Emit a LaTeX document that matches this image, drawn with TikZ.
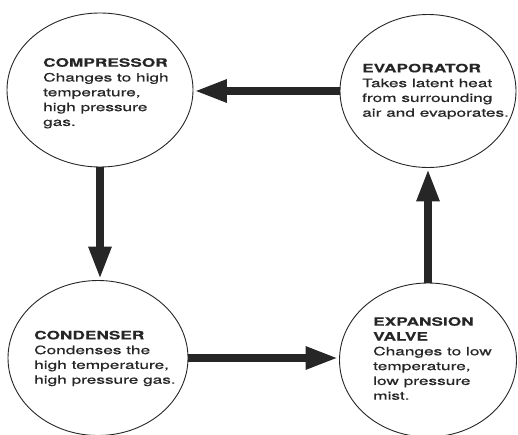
\documentclass[tikz,border=0pt]{standalone}
\usepackage{fontspec}
\setmainfont{TeX Gyre Heros}[FakeStretch=1.5,FakeBold=0.6,BoldFeatures={FakeBold=0.3}]
\usetikzlibrary{shapes.geometric,arrows.meta}
\definecolor{ink}{HTML}{262626}
\tikzset{
  x=1pt,y=-1pt,
  stage/.style={ellipse,draw=ink,line width=0.9pt,inner sep=0pt},
  txt/.style={anchor=base west,align=left,inner sep=0pt,text=ink,
    font=\fontsize{11.5}{14.8}\selectfont},
  flow/.style={draw=ink,line width=8.5pt,-{Triangle[length=33pt,width=21pt]},shorten >=0.5pt},
}
\begin{document}
\begin{tikzpicture}
\useasboundingbox (0,0) rectangle (518,435);
\node[stage,minimum width=186pt,minimum height=154pt] (comp) at (100,90) {};
\node[stage,minimum width=176pt,minimum height=153pt] (evap) at (428,91) {};
\node[stage,minimum width=180pt,minimum height=155pt] (cond) at (98,358) {};
\node[stage,minimum width=177pt,minimum height=154pt] (exp) at (428,360) {};

% anchor base = baseline of the last line
\node[txt] (compT) at (43,{66.7+4*14.8}) {\textbf{COMPRESSOR}\\Changes to high\\temperature,\\high pressure\\gas.};
\node[txt] (evapT) at (362,{72.3+3*14.8}) {\textbf{EVAPORATOR}\\Takes latent heat\\from surrounding\\air and evaporates.};
\node[txt] (condT) at (34,{339.3+3*14.8}) {\textbf{CONDENSER}\\Condenses the\\high temperature,\\high pressure gas.};
\node[txt] (expT) at (373,{326.7+5*14.6}) {\textbf{EXPANSION}\\\textbf{VALVE}\\Changes to low\\temperature,\\low pressure\\mist.};

\draw[flow] (evap.west) -- (evap.west -| comp.east);
\draw[flow] (comp.south) -- (comp.south |- cond.north);
\draw[flow] (cond.east) -- (cond.east -| exp.west);
\draw[flow] (exp.north) -- (exp.north |- evap.south);
\end{tikzpicture}
\end{document}
